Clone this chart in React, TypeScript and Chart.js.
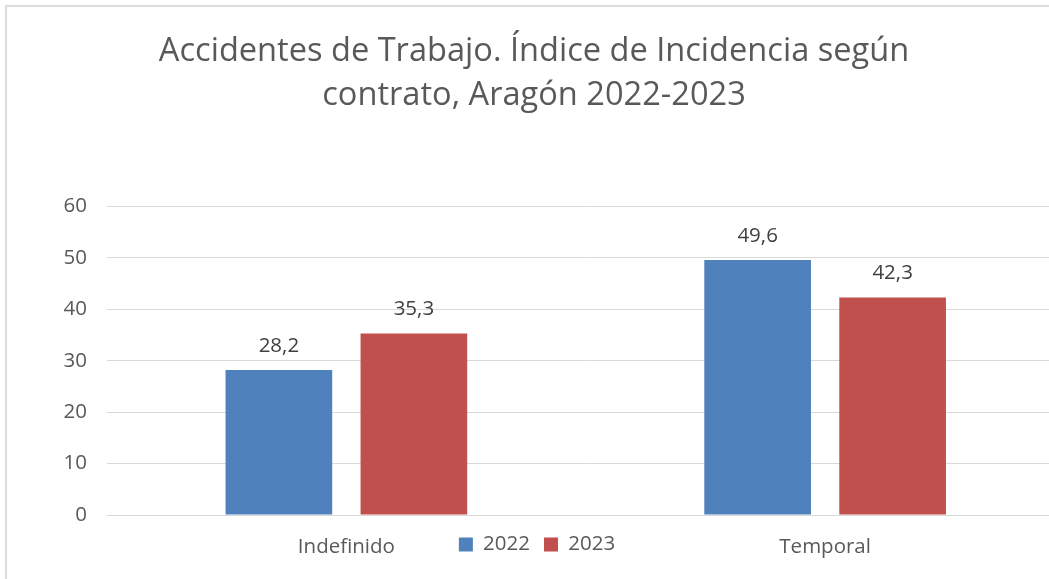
import { useEffect, useRef } from 'react';
import { Chart, registerables } from 'chart.js';

Chart.register(...registerables);

const titleLines = ['Accidentes de Trabajo. Índice de Incidencia según', 'contrato, Aragón 2022-2023'];
const categories = ['Indefinido', 'Temporal'];
const seriesNames = ['2022', '2023'];
const values2022 = [28.2, 49.6];
const values2023 = [35.3, 42.3];
const seriesColors = ['#4F81BD', '#C0504D'];
const yMin = 0;
const yMax = 60;
const yStep = 10;

const FONT = "'Open Sans', sans-serif";
const SMALL = 20.5;

const legendMover = {
  id: 'legendMover',
  afterLayout(chart: any) {
    const lg = chart.legend;
    if (!lg) return;
    const h = lg.bottom - lg.top;
    const top = chart.chartArea.bottom + 5.25;
    lg.top = top;
    lg.bottom = top + h;
    lg.left += 3;
    lg.right += 3;
  },
};

const dataLabels = {
  id: 'dataLabels',
  afterDatasetsDraw(chart: any) {
    const ctx = chart.ctx;
    ctx.save();
    ctx.font = `${SMALL}px ${FONT}`;
    ctx.fillStyle = '#404040';
    ctx.textAlign = 'center';
    ctx.textBaseline = 'middle';
    chart.data.datasets.forEach((ds: any, i: number) => {
      const meta = chart.getDatasetMeta(i);
      meta.data.forEach((bar: any, j: number) => {
        const v = ds.data[j] as number;
        ctx.fillText(v.toFixed(1).replace('.', ','), bar.x, bar.y - 24);
      });
    });
    ctx.restore();
  },
};

export default function App() {
  const ref = useRef<HTMLCanvasElement>(null);

  useEffect(() => {
    if (!ref.current) return;
    const chart = new Chart(ref.current, {
      type: 'bar',
      data: {
        labels: categories,
        datasets: [
          {
            label: seriesNames[0],
            data: values2022,
            backgroundColor: seriesColors[0],
            barPercentage: 0.79,
            categoryPercentage: 0.564,
          },
          {
            label: seriesNames[1],
            data: values2023,
            backgroundColor: seriesColors[1],
            barPercentage: 0.79,
            categoryPercentage: 0.564,
          },
        ],
      },
      options: {
        responsive: false,
        animation: false,
        layout: { padding: { left: 3.5, right: 3.5, top: 0, bottom: 0 } },
        plugins: {
          title: {
            display: true,
            text: titleLines,
            color: '#595959',
            font: { family: FONT, size: 32.6, weight: 'normal', lineHeight: 1.37 },
            padding: { top: 29, bottom: 43.7 },
          },
          legend: {
            display: true,
            position: 'top',
            labels: {
              color: '#595959',
              font: { family: FONT, size: SMALL },
              boxWidth: 14,
              boxHeight: 14,
              padding: 14,
            },
          },
          tooltip: { enabled: false },
        },
        scales: {
          x: {
            grid: { display: false, drawTicks: false },
            border: { display: false },
            ticks: { color: '#595959', font: { family: FONT, size: SMALL }, padding: 19.5 },
            afterFit(scale: any) {
              scale.height = 64;
            },
          },
          y: {
            min: yMin,
            max: yMax,
            grid: { color: '#d9d9d9', lineWidth: 1, drawTicks: false },
            border: { display: false },
            ticks: { stepSize: yStep, color: '#595959', font: { family: FONT, size: SMALL }, padding: 20 },
            afterFit(scale: any) {
              scale.width = 103.5;
            },
          },
        },
      },
      plugins: [legendMover, dataLabels],
    });
    return () => chart.destroy();
  }, []);

  return (
    <div
      style={{
        position: 'fixed',
        left: 0,
        top: 0,
        width: 1049,
        height: 579,
        overflow: 'hidden',
        background: '#ffffff',
      }}
    >
      <canvas ref={ref} width={1068} height={579} style={{ display: 'block', width: 1068, height: 579 }} />
      <div
        style={{
          position: 'absolute',
          left: 5,
          top: 5,
          width: 3000,
          height: 3000,
          borderLeft: '2px solid #dcdcdc',
          borderTop: '2px solid #dcdcdc',
          pointerEvents: 'none',
        }}
      />
    </div>
  );
}
